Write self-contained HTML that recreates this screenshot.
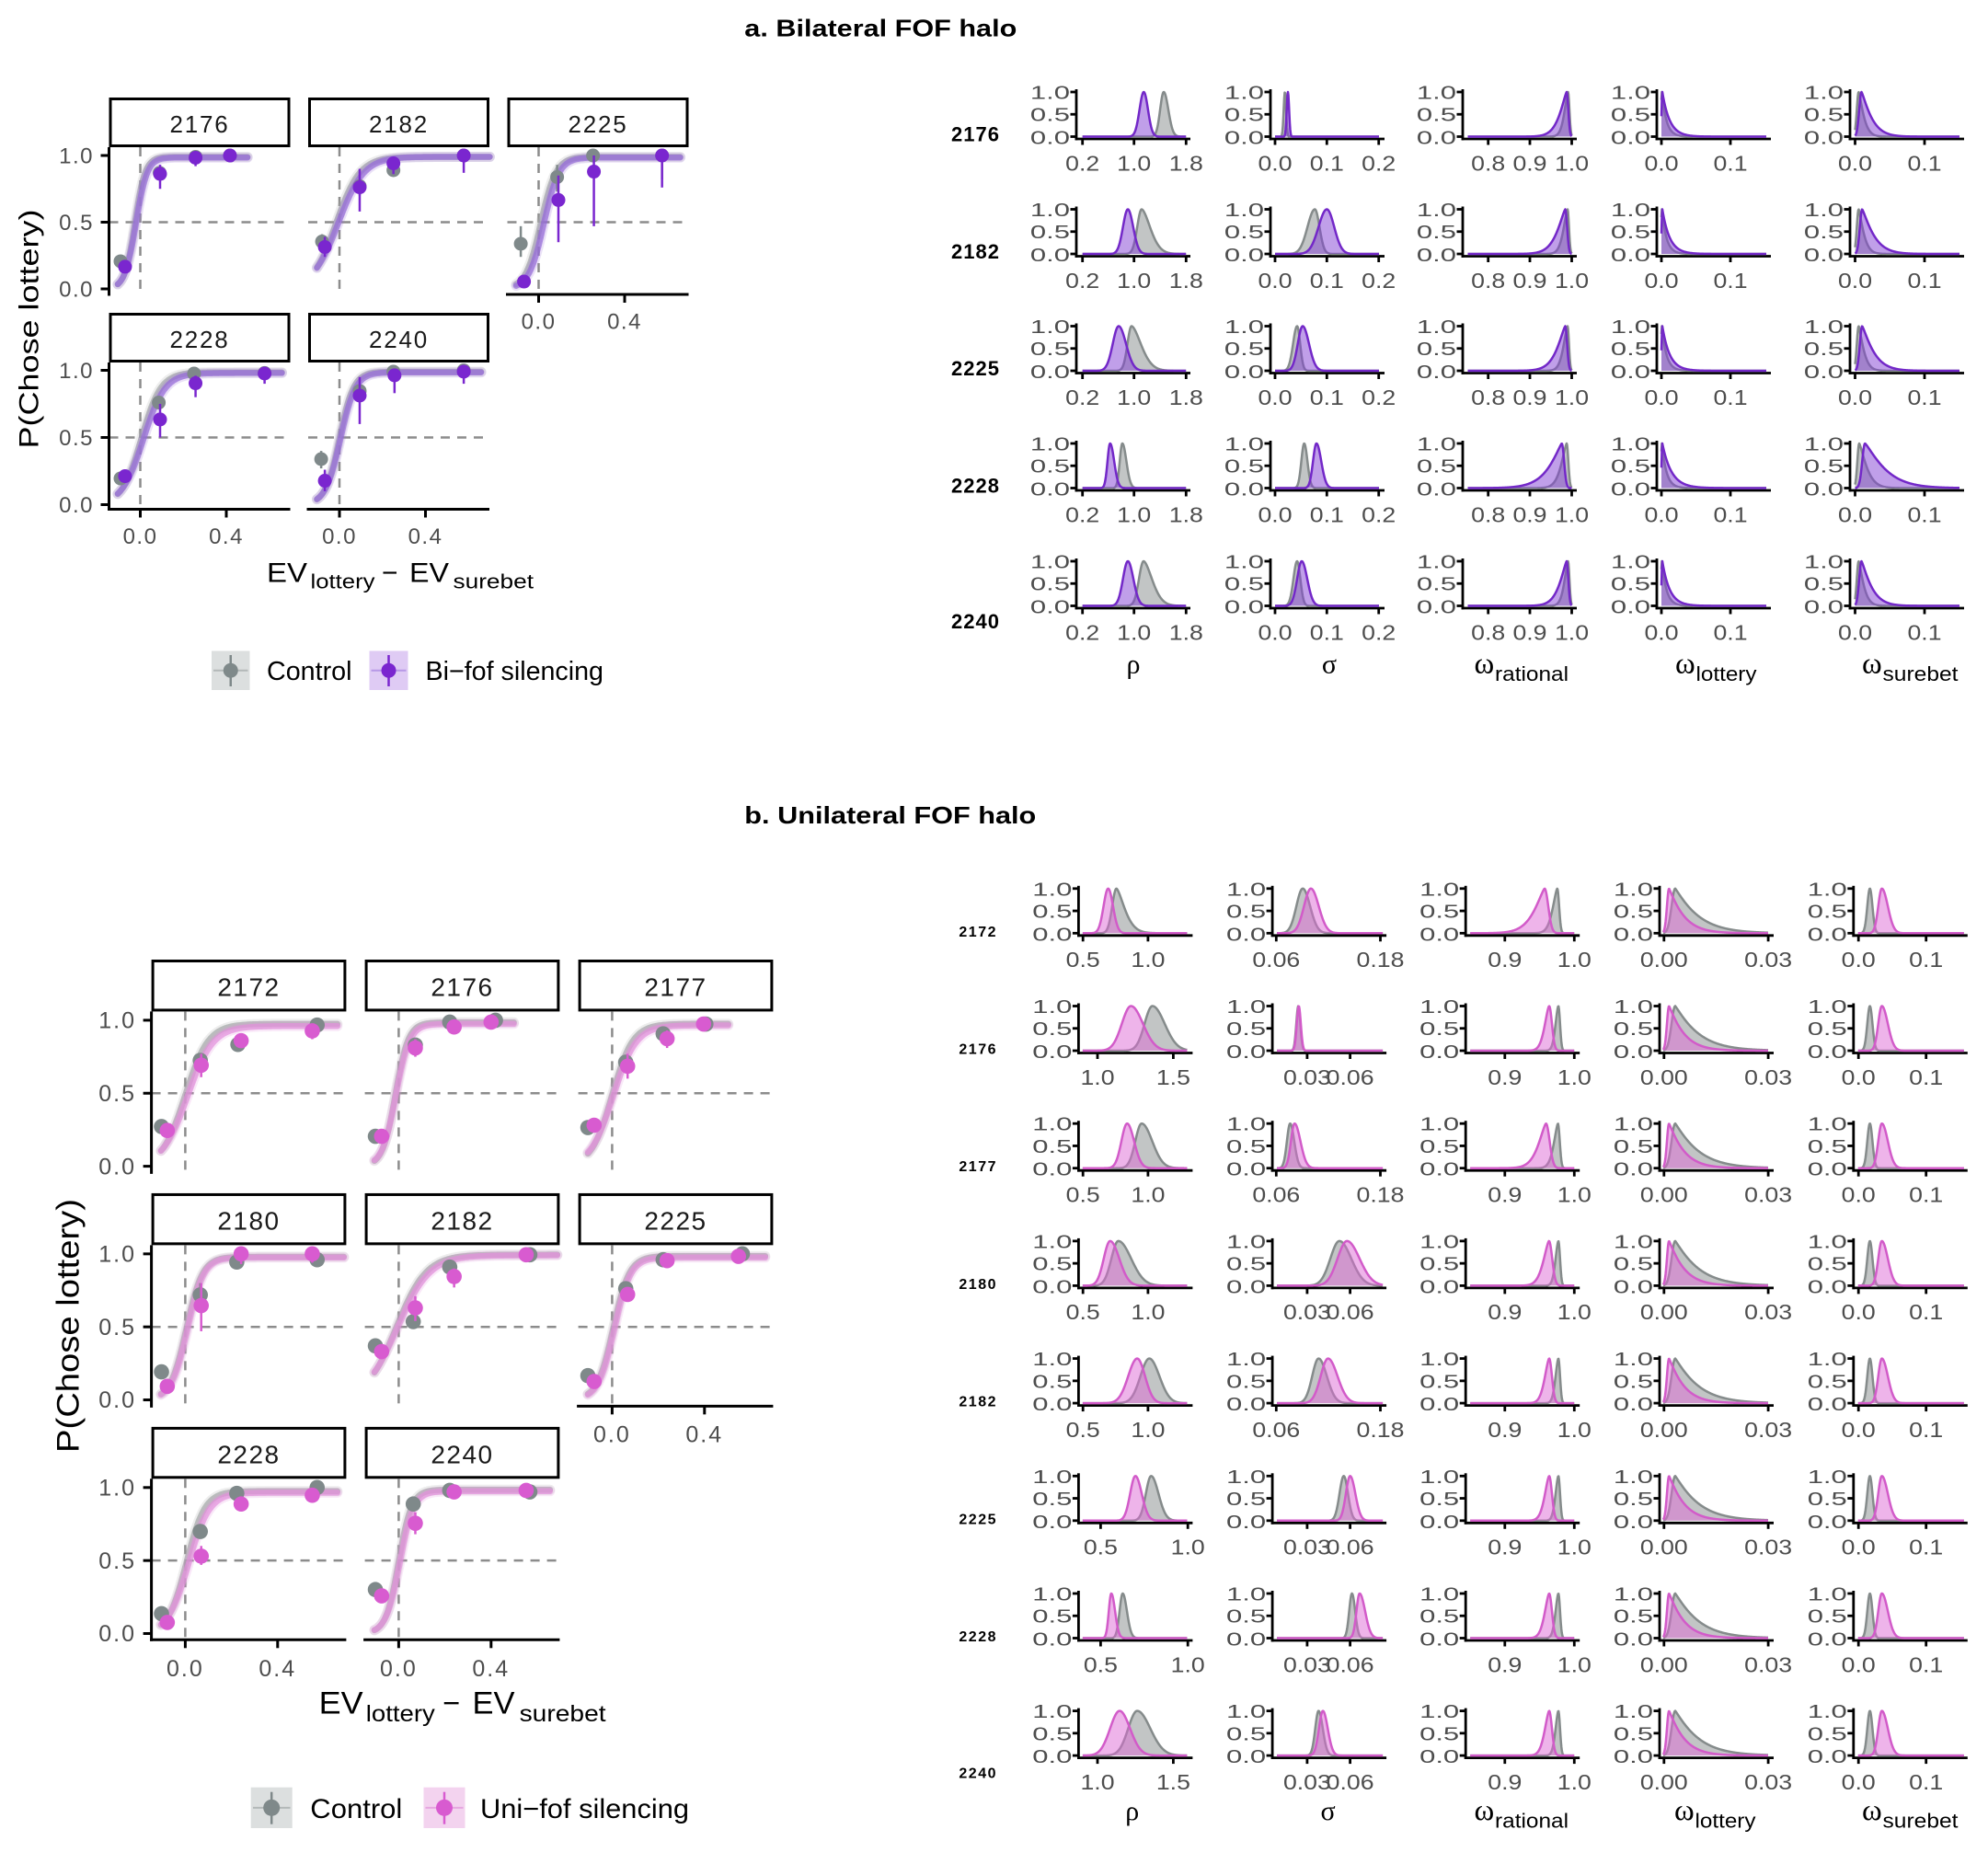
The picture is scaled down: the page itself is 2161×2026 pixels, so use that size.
<!DOCTYPE html>
<html><head><meta charset="utf-8">
<style>
html,body{margin:0;padding:0;background:#fff;}
svg{display:block}
text{font-family:"Liberation Sans",Arial,sans-serif;fill:#000}
.yt{font-size:20px;fill:#4d4d4d;text-anchor:end}
.xt{font-size:23px;fill:#4d4d4d;text-anchor:middle}
.rl{font-size:22px;font-weight:bold;text-anchor:end;letter-spacing:1px}
.rb{font-size:16px;font-weight:bold;text-anchor:end;letter-spacing:1.5px}
.la{font-size:24px;fill:#4d4d4d;letter-spacing:1.5px}
.lb{font-size:25px;fill:#4d4d4d;letter-spacing:2px}
.e{text-anchor:end}.m{text-anchor:middle}
.sa{font-size:26px;fill:#1a1a1a;text-anchor:middle;letter-spacing:1.8px}
.sb{font-size:28px;fill:#1a1a1a;text-anchor:middle;letter-spacing:1.5px}
.g{font-family:"Liberation Serif","DejaVu Serif",serif;font-size:30px}
.w{font-family:"Liberation Serif","DejaVu Serif",serif;font-size:33px}
.sub{font-size:22px}
</style></head><body>
<svg xmlns="http://www.w3.org/2000/svg" width="2161" height="2026" viewBox="0 0 2161 2026">
<rect width="2161" height="2026" fill="#fff"/>
<g id="g"></g>

<!-- Titles -->
<text x="809.3" y="39.3" font-size="26" font-weight="bold" textLength="296" lengthAdjust="spacingAndGlyphs">a. Bilateral FOF halo</text>
<text x="809.3" y="895" font-size="26" font-weight="bold" textLength="317" lengthAdjust="spacingAndGlyphs">b. Unilateral FOF halo</text>

<!-- ===== Panel a left ===== -->
<text class="sa" x="217" y="144">2176</text>
<text class="sa" x="433.5" y="144">2182</text>
<text class="sa" x="650" y="144">2225</text>
<text class="sa" x="217" y="378">2228</text>
<text class="sa" x="433.5" y="378">2240</text>
<text class="la e" x="102" y="177.5">1.0</text>
<text class="la e" x="102" y="250">0.5</text>
<text class="la e" x="102" y="322.5">0.0</text>
<text class="la e" x="102" y="411">1.0</text>
<text class="la e" x="102" y="484">0.5</text>
<text class="la e" x="102" y="557">0.0</text>
<text class="la m" x="152.5" y="591">0.0</text>
<text class="la m" x="246" y="591">0.4</text>
<text class="la m" x="369" y="591">0.0</text>
<text class="la m" x="462.5" y="591">0.4</text>
<text class="la m" x="585.5" y="357.5">0.0</text>
<text class="la m" x="679" y="357.5">0.4</text>
<text transform="translate(41.5,357.5) rotate(-90)" text-anchor="middle" font-size="30" textLength="260" lengthAdjust="spacingAndGlyphs">P(Chose lottery)</text>
<text x="290" y="632.5" font-size="30" textLength="44" lengthAdjust="spacingAndGlyphs">EV</text>
<text x="337.5" y="639.5" font-size="22" textLength="70" lengthAdjust="spacingAndGlyphs">lottery</text>
<text x="415" y="632.5" font-size="30" textLength="17.5" lengthAdjust="spacingAndGlyphs">−</text>
<text x="445" y="632.5" font-size="30" textLength="43" lengthAdjust="spacingAndGlyphs">EV</text>
<text x="492.5" y="639.5" font-size="22" textLength="87.5" lengthAdjust="spacingAndGlyphs">surebet</text>
<!-- legend a -->
<rect x="230" y="707.5" width="41.5" height="42.5" fill="#dcdfdf"/>
<line x1="232" y1="728.75" x2="269.5" y2="728.75" stroke="#b3b8b8" stroke-width="2"/>
<line x1="250.75" y1="712" x2="250.75" y2="746" stroke="#7f898a" stroke-width="2.5"/>
<circle cx="250.75" cy="728.75" r="8" fill="#7f898a"/>
<rect x="401.5" y="707.5" width="42" height="42.5" fill="#dfcbf4"/>
<line x1="403.5" y1="728.75" x2="441.5" y2="728.75" stroke="#b798e6" stroke-width="2"/>
<line x1="422.5" y1="712" x2="422.5" y2="746" stroke="#7a26cf" stroke-width="2.5"/>
<circle cx="422.5" cy="728.75" r="8" fill="#7a26cf"/>
<text x="290" y="739" font-size="29" textLength="92.5" lengthAdjust="spacingAndGlyphs">Control</text>
<text x="462.5" y="739" font-size="29" textLength="193.5" lengthAdjust="spacingAndGlyphs">Bi−fof silencing</text>

<!-- ===== Panel b left ===== -->
<text class="sb" x="270.5" y="1082.6">2172</text>
<text class="sb" x="502.5" y="1082.6">2176</text>
<text class="sb" x="734.5" y="1082.6">2177</text>
<text class="sb" x="270.5" y="1336.5">2180</text>
<text class="sb" x="502.5" y="1336.5">2182</text>
<text class="sb" x="734.5" y="1336.5">2225</text>
<text class="sb" x="270.5" y="1590.4">2228</text>
<text class="sb" x="502.5" y="1590.4">2240</text>
<text class="lb e" x="148" y="1117.6">1.0</text>
<text class="lb e" x="148" y="1197">0.5</text>
<text class="lb e" x="148" y="1276.3">0.0</text>
<text class="lb e" x="148" y="1371.5">1.0</text>
<text class="lb e" x="148" y="1450.9">0.5</text>
<text class="lb e" x="148" y="1530.2">0.0</text>
<text class="lb e" x="148" y="1625.4">1.0</text>
<text class="lb e" x="148" y="1704.8">0.5</text>
<text class="lb e" x="148" y="1784.1">0.0</text>
<text class="lb m" x="201.4" y="1822">0.0</text>
<text class="lb m" x="301.8" y="1822">0.4</text>
<text class="lb m" x="433.4" y="1822">0.0</text>
<text class="lb m" x="533.8" y="1822">0.4</text>
<text class="lb m" x="665.4" y="1567.4">0.0</text>
<text class="lb m" x="765.8" y="1567.4">0.4</text>
<text transform="translate(85.5,1441) rotate(-90)" text-anchor="middle" font-size="34" textLength="276" lengthAdjust="spacingAndGlyphs">P(Chose lottery)</text>
<text x="346.7" y="1862.7" font-size="34" textLength="48" lengthAdjust="spacingAndGlyphs">EV</text>
<text x="397.8" y="1871" font-size="25" textLength="75" lengthAdjust="spacingAndGlyphs">lottery</text>
<text x="481.2" y="1862.7" font-size="34" textLength="19" lengthAdjust="spacingAndGlyphs">−</text>
<text x="513.5" y="1862.7" font-size="34" textLength="46" lengthAdjust="spacingAndGlyphs">EV</text>
<text x="564.6" y="1871" font-size="25" textLength="94" lengthAdjust="spacingAndGlyphs">surebet</text>
<!-- legend b -->
<rect x="272.7" y="1942.7" width="45" height="44.3" fill="#dcdfdf"/>
<line x1="275" y1="1964.85" x2="315.5" y2="1964.85" stroke="#b3b8b8" stroke-width="2"/>
<line x1="295.2" y1="1947.7" x2="295.2" y2="1982.7" stroke="#7f898a" stroke-width="2.5"/>
<circle cx="295.2" cy="1964.85" r="9" fill="#7f898a"/>
<rect x="460.5" y="1942.7" width="45" height="44.3" fill="#f3d3ef"/>
<line x1="462.5" y1="1964.85" x2="503.5" y2="1964.85" stroke="#e6a6e0" stroke-width="2"/>
<line x1="483" y1="1947.7" x2="483" y2="1982.7" stroke="#d85bd0" stroke-width="2.5"/>
<circle cx="483" cy="1964.85" r="9" fill="#d85bd0"/>
<text x="337.3" y="1976" font-size="30" textLength="100" lengthAdjust="spacingAndGlyphs">Control</text>
<text x="522" y="1976" font-size="30" textLength="227" lengthAdjust="spacingAndGlyphs">Uni−fof silencing</text>

<!-- ===== Panel a right grid ===== -->
<g transform="translate(0,151)">
<text class="rl" x="1087" y="2.5">2176</text>
<g transform="translate(0,-43.5) scale(1.55,1)"><text class="yt" x="750.32">1.0</text><text class="yt" x="886.45">1.0</text><text class="yt" x="1021.29">1.0</text><text class="yt" x="1157.42">1.0</text><text class="yt" x="1292.9">1.0</text></g>
<g transform="translate(0,-19.3) scale(1.55,1)"><text class="yt" x="750.32">0.5</text><text class="yt" x="886.45">0.5</text><text class="yt" x="1021.29">0.5</text><text class="yt" x="1157.42">0.5</text><text class="yt" x="1292.9">0.5</text></g>
<g transform="translate(0,5.5) scale(1.55,1)"><text class="yt" x="750.32">0.0</text><text class="yt" x="886.45">0.0</text><text class="yt" x="1021.29">0.0</text><text class="yt" x="1157.42">0.0</text><text class="yt" x="1292.9">0.0</text></g>
<g transform="translate(0,34.3) scale(1.16,1)"><text class="xt" x="1014.4">0.2</text><text class="xt" x="1062.67">1.0</text><text class="xt" x="1111.47">1.8</text><text class="xt" x="1194.83">0.0</text><text class="xt" x="1243.36">0.1</text><text class="xt" x="1291.98">0.2</text><text class="xt" x="1394.57">0.8</text><text class="xt" x="1433.62">0.9</text><text class="xt" x="1472.84">1.0</text><text class="xt" x="1556.9">0.0</text><text class="xt" x="1621.55">0.1</text><text class="xt" x="1738.36">0.0</text><text class="xt" x="1803.45">0.1</text></g>
</g>
<g transform="translate(0,278.5)">
<text class="rl" x="1087" y="2.5">2182</text>
<g transform="translate(0,-43.5) scale(1.55,1)"><text class="yt" x="750.32">1.0</text><text class="yt" x="886.45">1.0</text><text class="yt" x="1021.29">1.0</text><text class="yt" x="1157.42">1.0</text><text class="yt" x="1292.9">1.0</text></g>
<g transform="translate(0,-19.3) scale(1.55,1)"><text class="yt" x="750.32">0.5</text><text class="yt" x="886.45">0.5</text><text class="yt" x="1021.29">0.5</text><text class="yt" x="1157.42">0.5</text><text class="yt" x="1292.9">0.5</text></g>
<g transform="translate(0,5.5) scale(1.55,1)"><text class="yt" x="750.32">0.0</text><text class="yt" x="886.45">0.0</text><text class="yt" x="1021.29">0.0</text><text class="yt" x="1157.42">0.0</text><text class="yt" x="1292.9">0.0</text></g>
<g transform="translate(0,34.3) scale(1.16,1)"><text class="xt" x="1014.4">0.2</text><text class="xt" x="1062.67">1.0</text><text class="xt" x="1111.47">1.8</text><text class="xt" x="1194.83">0.0</text><text class="xt" x="1243.36">0.1</text><text class="xt" x="1291.98">0.2</text><text class="xt" x="1394.57">0.8</text><text class="xt" x="1433.62">0.9</text><text class="xt" x="1472.84">1.0</text><text class="xt" x="1556.9">0.0</text><text class="xt" x="1621.55">0.1</text><text class="xt" x="1738.36">0.0</text><text class="xt" x="1803.45">0.1</text></g>
</g>
<g transform="translate(0,405.5)">
<text class="rl" x="1087" y="2.5">2225</text>
<g transform="translate(0,-43.5) scale(1.55,1)"><text class="yt" x="750.32">1.0</text><text class="yt" x="886.45">1.0</text><text class="yt" x="1021.29">1.0</text><text class="yt" x="1157.42">1.0</text><text class="yt" x="1292.9">1.0</text></g>
<g transform="translate(0,-19.3) scale(1.55,1)"><text class="yt" x="750.32">0.5</text><text class="yt" x="886.45">0.5</text><text class="yt" x="1021.29">0.5</text><text class="yt" x="1157.42">0.5</text><text class="yt" x="1292.9">0.5</text></g>
<g transform="translate(0,5.5) scale(1.55,1)"><text class="yt" x="750.32">0.0</text><text class="yt" x="886.45">0.0</text><text class="yt" x="1021.29">0.0</text><text class="yt" x="1157.42">0.0</text><text class="yt" x="1292.9">0.0</text></g>
<g transform="translate(0,34.3) scale(1.16,1)"><text class="xt" x="1014.4">0.2</text><text class="xt" x="1062.67">1.0</text><text class="xt" x="1111.47">1.8</text><text class="xt" x="1194.83">0.0</text><text class="xt" x="1243.36">0.1</text><text class="xt" x="1291.98">0.2</text><text class="xt" x="1394.57">0.8</text><text class="xt" x="1433.62">0.9</text><text class="xt" x="1472.84">1.0</text><text class="xt" x="1556.9">0.0</text><text class="xt" x="1621.55">0.1</text><text class="xt" x="1738.36">0.0</text><text class="xt" x="1803.45">0.1</text></g>
</g>
<g transform="translate(0,533)">
<text class="rl" x="1087" y="2.5">2228</text>
<g transform="translate(0,-43.5) scale(1.55,1)"><text class="yt" x="750.32">1.0</text><text class="yt" x="886.45">1.0</text><text class="yt" x="1021.29">1.0</text><text class="yt" x="1157.42">1.0</text><text class="yt" x="1292.9">1.0</text></g>
<g transform="translate(0,-19.3) scale(1.55,1)"><text class="yt" x="750.32">0.5</text><text class="yt" x="886.45">0.5</text><text class="yt" x="1021.29">0.5</text><text class="yt" x="1157.42">0.5</text><text class="yt" x="1292.9">0.5</text></g>
<g transform="translate(0,5.5) scale(1.55,1)"><text class="yt" x="750.32">0.0</text><text class="yt" x="886.45">0.0</text><text class="yt" x="1021.29">0.0</text><text class="yt" x="1157.42">0.0</text><text class="yt" x="1292.9">0.0</text></g>
<g transform="translate(0,34.3) scale(1.16,1)"><text class="xt" x="1014.4">0.2</text><text class="xt" x="1062.67">1.0</text><text class="xt" x="1111.47">1.8</text><text class="xt" x="1194.83">0.0</text><text class="xt" x="1243.36">0.1</text><text class="xt" x="1291.98">0.2</text><text class="xt" x="1394.57">0.8</text><text class="xt" x="1433.62">0.9</text><text class="xt" x="1472.84">1.0</text><text class="xt" x="1556.9">0.0</text><text class="xt" x="1621.55">0.1</text><text class="xt" x="1738.36">0.0</text><text class="xt" x="1803.45">0.1</text></g>
</g>
<g transform="translate(0,661)">
<text class="rl" x="1087" y="22">2240</text>
<g transform="translate(0,-43.5) scale(1.55,1)"><text class="yt" x="750.32">1.0</text><text class="yt" x="886.45">1.0</text><text class="yt" x="1021.29">1.0</text><text class="yt" x="1157.42">1.0</text><text class="yt" x="1292.9">1.0</text></g>
<g transform="translate(0,-19.3) scale(1.55,1)"><text class="yt" x="750.32">0.5</text><text class="yt" x="886.45">0.5</text><text class="yt" x="1021.29">0.5</text><text class="yt" x="1157.42">0.5</text><text class="yt" x="1292.9">0.5</text></g>
<g transform="translate(0,5.5) scale(1.55,1)"><text class="yt" x="750.32">0.0</text><text class="yt" x="886.45">0.0</text><text class="yt" x="1021.29">0.0</text><text class="yt" x="1157.42">0.0</text><text class="yt" x="1292.9">0.0</text></g>
<g transform="translate(0,34.3) scale(1.16,1)"><text class="xt" x="1014.4">0.2</text><text class="xt" x="1062.67">1.0</text><text class="xt" x="1111.47">1.8</text><text class="xt" x="1194.83">0.0</text><text class="xt" x="1243.36">0.1</text><text class="xt" x="1291.98">0.2</text><text class="xt" x="1394.57">0.8</text><text class="xt" x="1433.62">0.9</text><text class="xt" x="1472.84">1.0</text><text class="xt" x="1556.9">0.0</text><text class="xt" x="1621.55">0.1</text><text class="xt" x="1738.36">0.0</text><text class="xt" x="1803.45">0.1</text></g>
</g>
<!-- axis titles a -->
<text class="g" x="1232" y="731.5" text-anchor="middle">ρ</text>
<text class="g" x="1445" y="731.5" text-anchor="middle">σ</text>
<text class="w" x="1602.5" y="731.5">ω</text><text class="sub" x="1625" y="740" textLength="80" lengthAdjust="spacingAndGlyphs">rational</text>
<text class="w" x="1821" y="731.5">ω</text><text class="sub" x="1843.5" y="740" textLength="66" lengthAdjust="spacingAndGlyphs">lottery</text>
<text class="w" x="2024" y="731.5">ω</text><text class="sub" x="2046.5" y="740" textLength="82" lengthAdjust="spacingAndGlyphs">surebet</text>

<!-- ===== Panel b right grid ===== -->
<g transform="translate(0,1016.8)">
<text class="rb" x="1084" y="1">2172</text>
<g transform="translate(0,-43.5) scale(1.55,1)"><text class="yt" x="751.87">1.0</text><text class="yt" x="887.81">1.0</text><text class="yt" x="1023.35">1.0</text><text class="yt" x="1159.35">1.0</text><text class="yt" x="1295.35">1.0</text></g>
<g transform="translate(0,-19.3) scale(1.55,1)"><text class="yt" x="751.87">0.5</text><text class="yt" x="887.81">0.5</text><text class="yt" x="1023.35">0.5</text><text class="yt" x="1159.35">0.5</text><text class="yt" x="1295.35">0.5</text></g>
<g transform="translate(0,5.5) scale(1.55,1)"><text class="yt" x="751.87">0.0</text><text class="yt" x="887.81">0.0</text><text class="yt" x="1023.35">0.0</text><text class="yt" x="1159.35">0.0</text><text class="yt" x="1295.35">0.0</text></g>
<g transform="translate(0,34.3) scale(1.16,1)"><text class="xt" x="1014.83">0.5</text><text class="xt" x="1075.78">1.0</text><text class="xt" x="1195.95">0.06</text><text class="xt" x="1293.53">0.18</text><text class="xt" x="1410.17">0.9</text><text class="xt" x="1475.26">1.0</text><text class="xt" x="1559.31">0.00</text><text class="xt" x="1656.98">0.03</text><text class="xt" x="1741.55">0.0</text><text class="xt" x="1804.91">0.1</text></g>
</g>
<g transform="translate(0,1144.5)">
<text class="rb" x="1084" y="1">2176</text>
<g transform="translate(0,-43.5) scale(1.55,1)"><text class="yt" x="751.87">1.0</text><text class="yt" x="887.81">1.0</text><text class="yt" x="1023.35">1.0</text><text class="yt" x="1159.35">1.0</text><text class="yt" x="1295.35">1.0</text></g>
<g transform="translate(0,-19.3) scale(1.55,1)"><text class="yt" x="751.87">0.5</text><text class="yt" x="887.81">0.5</text><text class="yt" x="1023.35">0.5</text><text class="yt" x="1159.35">0.5</text><text class="yt" x="1295.35">0.5</text></g>
<g transform="translate(0,5.5) scale(1.55,1)"><text class="yt" x="751.87">0.0</text><text class="yt" x="887.81">0.0</text><text class="yt" x="1023.35">0.0</text><text class="yt" x="1159.35">0.0</text><text class="yt" x="1295.35">0.0</text></g>
<g transform="translate(0,34.3) scale(1.16,1)"><text class="xt" x="1028.45">1.0</text><text class="xt" x="1099.48">1.5</text><text class="xt" x="1224.91">0.03</text><text class="xt" x="1265.17">0.06</text><text class="xt" x="1410.17">0.9</text><text class="xt" x="1475.26">1.0</text><text class="xt" x="1559.31">0.00</text><text class="xt" x="1656.98">0.03</text><text class="xt" x="1741.55">0.0</text><text class="xt" x="1804.91">0.1</text></g>
</g>
<g transform="translate(0,1272.2)">
<text class="rb" x="1084" y="1">2177</text>
<g transform="translate(0,-43.5) scale(1.55,1)"><text class="yt" x="751.87">1.0</text><text class="yt" x="887.81">1.0</text><text class="yt" x="1023.35">1.0</text><text class="yt" x="1159.35">1.0</text><text class="yt" x="1295.35">1.0</text></g>
<g transform="translate(0,-19.3) scale(1.55,1)"><text class="yt" x="751.87">0.5</text><text class="yt" x="887.81">0.5</text><text class="yt" x="1023.35">0.5</text><text class="yt" x="1159.35">0.5</text><text class="yt" x="1295.35">0.5</text></g>
<g transform="translate(0,5.5) scale(1.55,1)"><text class="yt" x="751.87">0.0</text><text class="yt" x="887.81">0.0</text><text class="yt" x="1023.35">0.0</text><text class="yt" x="1159.35">0.0</text><text class="yt" x="1295.35">0.0</text></g>
<g transform="translate(0,34.3) scale(1.16,1)"><text class="xt" x="1014.83">0.5</text><text class="xt" x="1075.78">1.0</text><text class="xt" x="1195.95">0.06</text><text class="xt" x="1293.53">0.18</text><text class="xt" x="1410.17">0.9</text><text class="xt" x="1475.26">1.0</text><text class="xt" x="1559.31">0.00</text><text class="xt" x="1656.98">0.03</text><text class="xt" x="1741.55">0.0</text><text class="xt" x="1804.91">0.1</text></g>
</g>
<g transform="translate(0,1399.9)">
<text class="rb" x="1084" y="1">2180</text>
<g transform="translate(0,-43.5) scale(1.55,1)"><text class="yt" x="751.87">1.0</text><text class="yt" x="887.81">1.0</text><text class="yt" x="1023.35">1.0</text><text class="yt" x="1159.35">1.0</text><text class="yt" x="1295.35">1.0</text></g>
<g transform="translate(0,-19.3) scale(1.55,1)"><text class="yt" x="751.87">0.5</text><text class="yt" x="887.81">0.5</text><text class="yt" x="1023.35">0.5</text><text class="yt" x="1159.35">0.5</text><text class="yt" x="1295.35">0.5</text></g>
<g transform="translate(0,5.5) scale(1.55,1)"><text class="yt" x="751.87">0.0</text><text class="yt" x="887.81">0.0</text><text class="yt" x="1023.35">0.0</text><text class="yt" x="1159.35">0.0</text><text class="yt" x="1295.35">0.0</text></g>
<g transform="translate(0,34.3) scale(1.16,1)"><text class="xt" x="1014.83">0.5</text><text class="xt" x="1075.78">1.0</text><text class="xt" x="1224.91">0.03</text><text class="xt" x="1265.17">0.06</text><text class="xt" x="1410.17">0.9</text><text class="xt" x="1475.26">1.0</text><text class="xt" x="1559.31">0.00</text><text class="xt" x="1656.98">0.03</text><text class="xt" x="1741.55">0.0</text><text class="xt" x="1804.91">0.1</text></g>
</g>
<g transform="translate(0,1527.6)">
<text class="rb" x="1084" y="1">2182</text>
<g transform="translate(0,-43.5) scale(1.55,1)"><text class="yt" x="751.87">1.0</text><text class="yt" x="887.81">1.0</text><text class="yt" x="1023.35">1.0</text><text class="yt" x="1159.35">1.0</text><text class="yt" x="1295.35">1.0</text></g>
<g transform="translate(0,-19.3) scale(1.55,1)"><text class="yt" x="751.87">0.5</text><text class="yt" x="887.81">0.5</text><text class="yt" x="1023.35">0.5</text><text class="yt" x="1159.35">0.5</text><text class="yt" x="1295.35">0.5</text></g>
<g transform="translate(0,5.5) scale(1.55,1)"><text class="yt" x="751.87">0.0</text><text class="yt" x="887.81">0.0</text><text class="yt" x="1023.35">0.0</text><text class="yt" x="1159.35">0.0</text><text class="yt" x="1295.35">0.0</text></g>
<g transform="translate(0,34.3) scale(1.16,1)"><text class="xt" x="1014.83">0.5</text><text class="xt" x="1075.78">1.0</text><text class="xt" x="1195.95">0.06</text><text class="xt" x="1293.53">0.18</text><text class="xt" x="1410.17">0.9</text><text class="xt" x="1475.26">1.0</text><text class="xt" x="1559.31">0.00</text><text class="xt" x="1656.98">0.03</text><text class="xt" x="1741.55">0.0</text><text class="xt" x="1804.91">0.1</text></g>
</g>
<g transform="translate(0,1655.3)">
<text class="rb" x="1084" y="1">2225</text>
<g transform="translate(0,-43.5) scale(1.55,1)"><text class="yt" x="751.87">1.0</text><text class="yt" x="887.81">1.0</text><text class="yt" x="1023.35">1.0</text><text class="yt" x="1159.35">1.0</text><text class="yt" x="1295.35">1.0</text></g>
<g transform="translate(0,-19.3) scale(1.55,1)"><text class="yt" x="751.87">0.5</text><text class="yt" x="887.81">0.5</text><text class="yt" x="1023.35">0.5</text><text class="yt" x="1159.35">0.5</text><text class="yt" x="1295.35">0.5</text></g>
<g transform="translate(0,5.5) scale(1.55,1)"><text class="yt" x="751.87">0.0</text><text class="yt" x="887.81">0.0</text><text class="yt" x="1023.35">0.0</text><text class="yt" x="1159.35">0.0</text><text class="yt" x="1295.35">0.0</text></g>
<g transform="translate(0,34.3) scale(1.16,1)"><text class="xt" x="1031.38">0.5</text><text class="xt" x="1113.1">1.0</text><text class="xt" x="1224.91">0.03</text><text class="xt" x="1265.17">0.06</text><text class="xt" x="1410.17">0.9</text><text class="xt" x="1475.26">1.0</text><text class="xt" x="1559.31">0.00</text><text class="xt" x="1656.98">0.03</text><text class="xt" x="1741.55">0.0</text><text class="xt" x="1804.91">0.1</text></g>
</g>
<g transform="translate(0,1783)">
<text class="rb" x="1084" y="1">2228</text>
<g transform="translate(0,-43.5) scale(1.55,1)"><text class="yt" x="751.87">1.0</text><text class="yt" x="887.81">1.0</text><text class="yt" x="1023.35">1.0</text><text class="yt" x="1159.35">1.0</text><text class="yt" x="1295.35">1.0</text></g>
<g transform="translate(0,-19.3) scale(1.55,1)"><text class="yt" x="751.87">0.5</text><text class="yt" x="887.81">0.5</text><text class="yt" x="1023.35">0.5</text><text class="yt" x="1159.35">0.5</text><text class="yt" x="1295.35">0.5</text></g>
<g transform="translate(0,5.5) scale(1.55,1)"><text class="yt" x="751.87">0.0</text><text class="yt" x="887.81">0.0</text><text class="yt" x="1023.35">0.0</text><text class="yt" x="1159.35">0.0</text><text class="yt" x="1295.35">0.0</text></g>
<g transform="translate(0,34.3) scale(1.16,1)"><text class="xt" x="1031.38">0.5</text><text class="xt" x="1113.1">1.0</text><text class="xt" x="1224.91">0.03</text><text class="xt" x="1265.17">0.06</text><text class="xt" x="1410.17">0.9</text><text class="xt" x="1475.26">1.0</text><text class="xt" x="1559.31">0.00</text><text class="xt" x="1656.98">0.03</text><text class="xt" x="1741.55">0.0</text><text class="xt" x="1804.91">0.1</text></g>
</g>
<g transform="translate(0,1910.6)">
<text class="rb" x="1084" y="22">2240</text>
<g transform="translate(0,-43.5) scale(1.55,1)"><text class="yt" x="751.87">1.0</text><text class="yt" x="887.81">1.0</text><text class="yt" x="1023.35">1.0</text><text class="yt" x="1159.35">1.0</text><text class="yt" x="1295.35">1.0</text></g>
<g transform="translate(0,-19.3) scale(1.55,1)"><text class="yt" x="751.87">0.5</text><text class="yt" x="887.81">0.5</text><text class="yt" x="1023.35">0.5</text><text class="yt" x="1159.35">0.5</text><text class="yt" x="1295.35">0.5</text></g>
<g transform="translate(0,5.5) scale(1.55,1)"><text class="yt" x="751.87">0.0</text><text class="yt" x="887.81">0.0</text><text class="yt" x="1023.35">0.0</text><text class="yt" x="1159.35">0.0</text><text class="yt" x="1295.35">0.0</text></g>
<g transform="translate(0,34.3) scale(1.16,1)"><text class="xt" x="1028.45">1.0</text><text class="xt" x="1099.48">1.5</text><text class="xt" x="1224.91">0.03</text><text class="xt" x="1265.17">0.06</text><text class="xt" x="1410.17">0.9</text><text class="xt" x="1475.26">1.0</text><text class="xt" x="1559.31">0.00</text><text class="xt" x="1656.98">0.03</text><text class="xt" x="1741.55">0.0</text><text class="xt" x="1804.91">0.1</text></g>
</g>
<!-- axis titles b -->
<text class="g" x="1230.7" y="1978" text-anchor="middle">ρ</text>
<text class="g" x="1443.6" y="1978" text-anchor="middle">σ</text>
<text class="w" x="1602.5" y="1978">ω</text><text class="sub" x="1625" y="1986.5" textLength="80" lengthAdjust="spacingAndGlyphs">rational</text>
<text class="w" x="1820" y="1978">ω</text><text class="sub" x="1842.5" y="1986.5" textLength="66" lengthAdjust="spacingAndGlyphs">lottery</text>
<text class="w" x="2024" y="1978">ω</text><text class="sub" x="2046.5" y="1986.5" textLength="82" lengthAdjust="spacingAndGlyphs">surebet</text>
</svg>

<script>
(function(){
const NS='http://www.w3.org/2000/svg',G=document.getElementById('g');
function E(t,a){const e=document.createElementNS(NS,t);for(const k in a)e.setAttribute(k,a[k]);G.appendChild(e);return e}
function ln(x1,y1,x2,y2,c,w,d){const a={x1:x1,y1:y1,x2:x2,y2:y2,stroke:c,'stroke-width':w};if(d)a['stroke-dasharray']=d;return E('line',a)}
const GP='#7f898a',PU='#7a26cf',PK='#d85bd0',GC='#a3a7a7',PC='#9468d8',KC='#e38edc';

function psy(o){
 const X=v=>o.L+o.x0+v*o.ux, Y=p=>o.y0-p*o.uy, B=o.T+o.H;
 E('rect',{x:o.L+1.5,y:o.S+1.5,width:o.W-3,height:o.SH-3,fill:'#fff',stroke:'#000','stroke-width':3});
 ln(X(0),o.T,X(0),B,'#8c8c8c',2.5,'10 8');
 ln(o.L,Y(.5),o.L+o.W,Y(.5),'#8c8c8c',2.5,'10 8');
 for(const c of o.cv){let d='';for(let v=-0.105;v<=c[3]+1e-6;v+=0.004){const p=c[2]/(1+Math.exp(-(v-c[0])/c[1]));d+=(d?'L':'M')+X(v).toFixed(1)+' '+Y(p).toFixed(1)}
  E('path',{d:d,fill:'none',stroke:c[4],'stroke-width':11,'stroke-opacity':.2,'stroke-linecap':'round','stroke-linejoin':'round'});
  E('path',{d:d,fill:'none',stroke:c[4],'stroke-width':6.5,'stroke-opacity':.7,'stroke-linecap':'round','stroke-linejoin':'round'});}
 function pts(arr,col){for(const q of arr){const lo=q.length>2?q[2]:Math.max(0,q[1]-.035),hi=q.length>2?q[3]:Math.min(1,q[1]+.035);
  ln(X(q[0]),Y(lo),X(q[0]),Y(hi),col,2.5);E('circle',{cx:X(q[0]),cy:Y(q[1]),r:o.r,fill:col});}}
 pts(o.pg,GP);pts(o.pc,o.col);
 if(o.ya){ln(o.L,o.T,o.L,B+1.5,'#000',3);for(const p of [0,.5,1])ln(o.L-9,Y(p),o.L,Y(p),'#000',3);}
 if(o.xa){ln(o.L-1.5,B,o.L+o.W,B,'#000',3);for(const v of [0,.4])ln(X(v),B,X(v),B+9,'#000',3);}
}
function pA(c,r,o){o.L=118.5+216.5*c;o.T=r?394:160;o.H=r?159.5:160;o.W=197;o.S=o.T-54;o.SH=54;o.x0=34;o.ux=233.75;o.y0=r?548.5:314;o.uy=r?146:145;o.r=7.5;o.col=PU;psy(o)}
function pB(c,r,o){o.L=164.6+232*c;o.T=1099.4+253.95*r;o.H=175;o.W=211.8;o.S=o.T-56.4;o.SH=56.4;o.x0=36.8;o.ux=251;o.y0=1267.6+253.95*r;o.uy=158.7;o.r=8.3;o.col=PK;psy(o)}

// Panel a
pA(0,0,{ya:1,cv:[[-0.025,0.024,0.99,0.5,GC],[-0.02,0.026,0.985,0.5,PC]],
 pg:[[-0.092,0.207,0.17,0.24],[0.09,0.87,0.84,0.9],[0.257,0.99,0.97,1],[0.417,1,0.99,1]],
 pc:[[-0.071,0.166,0.13,0.2],[0.092,0.862,0.75,0.93],[0.257,0.983,0.92,1],[0.417,1,0.95,1]]});
pA(1,0,{cv:[[-0.015,0.055,0.99,0.7,GC],[-0.005,0.06,0.99,0.7,PC]],
 pg:[[-0.081,0.355,0.3,0.41],[0.094,0.77,0.7,0.84],[0.251,0.89,0.85,0.93],[0.578,1,0.98,1]],
 pc:[[-0.068,0.314,0.24,0.39],[0.094,0.762,0.58,0.9],[0.251,0.941,0.86,0.99],[0.578,1,0.87,1]]});
pA(2,0,{xa:1,cv:[[0.01,0.035,0.99,0.66,GC],[0.025,0.035,0.985,0.66,PC]],
 pg:[[-0.083,0.338,0.24,0.47],[0.086,0.838,0.73,0.93],[0.253,1,0.98,1],[0.574,1,0.82,1]],
 pc:[[-0.068,0.055,0.02,0.1],[0.092,0.666,0.35,0.85],[0.257,0.879,0.47,1],[0.574,1,0.76,1]]});
pA(0,1,{ya:1,xa:1,cv:[[0.005,0.045,0.985,0.66,GC],[0.015,0.05,0.98,0.66,PC]],
 pg:[[-0.092,0.195,0.16,0.23],[0.086,0.76,0.72,0.8],[0.25,0.976,0.95,1],[0.578,0.98,0.96,1]],
 pc:[[-0.071,0.212,0.17,0.26],[0.092,0.634,0.5,0.75],[0.257,0.904,0.8,0.96],[0.578,0.976,0.9,1]]});
pA(1,1,{xa:1,cv:[[0.0,0.033,0.99,0.66,GC],[0.005,0.035,0.985,0.66,PC]],
 pg:[[-0.085,0.339,0.27,0.4],[0.094,0.846,0.8,0.89],[0.251,0.99,0.97,1],[0.578,1,0.98,1]],
 pc:[[-0.068,0.178,0.1,0.26],[0.094,0.812,0.6,0.95],[0.256,0.963,0.83,1],[0.578,0.99,0.9,1]]});

// Panel b
pB(0,0,{ya:1,cv:[[0.0,0.05,0.975,0.66,GC],[0.01,0.055,0.96,0.66,KC]],
 pg:[[-0.103,0.272],[0.065,0.725],[0.228,0.834],[0.571,0.967]],
 pc:[[-0.078,0.245],[0.069,0.692,0.61,0.77],[0.242,0.86],[0.55,0.927,0.87,0.97]]});
pB(1,0,{cv:[[-0.014,0.028,0.985,0.5,GC],[-0.012,0.03,0.975,0.5,KC]],
 pg:[[-0.101,0.205],[0.072,0.83],[0.221,0.987],[0.419,1]],
 pc:[[-0.074,0.205],[0.072,0.81,0.75,0.87],[0.24,0.954],[0.4,0.987]]});
pB(2,0,{cv:[[0.0,0.045,0.975,0.505,GC],[0.005,0.05,0.965,0.505,KC]],
 pg:[[-0.105,0.265],[0.059,0.712],[0.221,0.907],[0.406,0.974]],
 pc:[[-0.078,0.281],[0.067,0.685,0.6,0.77],[0.238,0.874,0.81,0.93],[0.396,0.974]]});
pB(0,1,{ya:1,cv:[[0.005,0.035,0.98,0.69,GC],[0.01,0.035,0.975,0.69,KC]],
 pg:[[-0.103,0.192,0.15,0.24],[0.065,0.719,0.64,0.8],[0.223,0.944,0.9,0.99],[0.571,0.96,0.92,1]],
 pc:[[-0.078,0.093],[0.069,0.646,0.47,0.8],[0.242,1,0.93,1],[0.55,1,0.94,1]]});
pB(1,1,{cv:[[-0.01,0.065,0.995,0.69,GC],[-0.005,0.07,0.99,0.69,KC]],
 pg:[[-0.101,0.37],[0.063,0.536],[0.221,0.91],[0.568,0.994]],
 pc:[[-0.074,0.331,0.28,0.38],[0.072,0.63,0.54,0.71],[0.24,0.845,0.77,0.9],[0.552,0.994]]});
pB(2,1,{xa:1,cv:[[0.005,0.035,0.985,0.663,GC],[0.01,0.035,0.975,0.663,KC]],
 pg:[[-0.105,0.166],[0.059,0.762],[0.221,0.96],[0.564,1]],
 pc:[[-0.078,0.126],[0.067,0.722],[0.238,0.954],[0.547,0.983]]});
pB(0,2,{ya:1,xa:1,cv:[[0.005,0.04,0.975,0.66,GC],[0.015,0.045,0.965,0.66,KC]],
 pg:[[-0.103,0.136],[0.065,0.699],[0.223,0.96],[0.571,1]],
 pc:[[-0.078,0.076],[0.069,0.53,0.47,0.6],[0.242,0.887],[0.55,0.947]]});
pB(1,2,{xa:1,cv:[[0.0,0.028,0.985,0.657,GC],[0.005,0.03,0.975,0.657,KC]],
 pg:[[-0.101,0.301],[0.063,0.887],[0.221,0.98],[0.568,0.97]],
 pc:[[-0.074,0.258],[0.072,0.755,0.68,0.83],[0.24,0.97],[0.552,0.98]]});

// densities
function dens(ay,p,x1,x2,fc,fo,lc){
 const y0=ay-2.5,h=48.5;let d='';
 for(let x=x1;x<=x2+0.01;x+=0.5){const dd=x-p[0];const s=dd<0?p[1]:p[3],k=dd<0?p[2]:p[4];const f=Math.exp(-0.5*Math.pow(Math.abs(dd)/s,k));d+=(d?'L':'M')+x.toFixed(1)+' '+(y0-f*h).toFixed(2)}
 E('path',{d:d+'L'+x2.toFixed(1)+' '+y0+'L'+x1.toFixed(1)+' '+y0+'Z',fill:fc,'fill-opacity':fo});
 E('path',{d:d,fill:'none',stroke:lc,'stroke-width':2.5,'stroke-linejoin':'round'});
}
function grid(rows,Ls,ticks,xr,data,fc,lc){
 rows.forEach((ay,r)=>{Ls.forEach((Lx,c)=>{
  ln(Lx,ay-54,Lx,ay+1.4,'#000',2.8);
  for(const p of [0,.5,1]){const y=ay-2.5-p*48.5;ln(Lx-6.5,y,Lx,y,'#000',2.8)}
  ln(Lx-1.4,ay,Lx+124,ay,'#000',2.8);
  const tk=(typeof ticks[c][0]==='number')?ticks[c]:ticks[c][r];
  for(const t of tk)ln(Lx+t,ay,Lx+t,ay+6.5,'#000',2.8);
  const dd=data[r][c];
  dens(ay,dd[0],Lx+xr[c][0],Lx+xr[c][1],'#8f9595',.55,'#858b8b');
  dens(ay,dd[1],Lx+xr[c][0],Lx+xr[c][1],fc,.5,lc);
 })});
}
const c4=[[1806.5,0.8,2,2.5,1],[1807,0.8,2,4,1]], c5=[[2020.4,2,2,4,1.3],[2023.5,2.5,2,7,1.2]];
const DA=[
 [[[1265,3.9,2,5,2],[1243.3,4.6,2,4.6,2]],[[1396.7,1.3,2,1.3,2],[1400,1.3,2,1.3,2]],[[1704.5,3.5,1.5,1.5,2],[1703,6,1.3,1.8,2]],c4,c5],
 [[[1241,4.8,2,9,1.7],[1226,5.3,2,5.8,2]],[[1429.3,8,2,5,2],[1442.3,9,2,8,2]],[[1704,4,1.5,1.5,2],[1701.5,7,1.3,2,2]],c4,[[2020.4,2,2,4,1.3],[2024.2,2.5,2,8,1.2]]],
 [[[1230,4.4,2,10,1.7],[1216,6.4,2,8,2]],[[1410,4.4,2,3.3,2],[1416,5.3,2,6.9,2]],[[1704,4,1.5,1.5,2],[1701.5,7,1.3,2,2]],c4,[[2020.4,2,2,4,1.3],[2024.2,2.5,2,8,1.2]]],
 [[[1220,2.8,2,4.4,2],[1206.7,2.8,2,4.4,2]],[[1417.7,3.1,2,3.5,2],[1431,3.7,2,5.2,2]],[[1703,5,1.4,1.8,2],[1697.7,10,1.2,2.5,2]],[[1806.5,0.8,2,2.5,1],[1807,0.8,2,5,1]],[[2021,2,2,6,1.3],[2027.3,3,2,14,1.2]]],
 [[[1243.1,5,2,9,1.7],[1226,5.3,2,6,2]],[[1410,4,2,3.5,2],[1415,5,2,6,2]],[[1704.5,3.5,1.5,1.5,2],[1703,6,1.3,1.8,2]],c4,c5]
];
grid([151,278.5,405.5,533,661],[1170,1381,1590,1801,2011],
 [[6.7,62.7,119.3],[5,61.3,117.7],[27.7,73,118.5],[5,80],[5.5,81]],
 [[6.7,119.3],[5,118],[5.5,118.5],[5,119],[5.5,119]],DA,'#8240d4','#7328c8');

const G3=[1694,3,1.7,1.8,2],P3=[1684,4.5,1.6,3,2],B4=[[1821,4,2,14,1.1],[1814.3,2.3,2,9,1.1]],B5=[[2032.6,2.8,2,2.8,2],[2045.6,3.9,2,6.5,2]];
const DB=[
 [[[1213.6,4.6,2,8,1.5],[1204.6,5,2,5.3,2]],[[1416.1,6.9,2,8,2],[1425,7.5,2,8.5,2]],[[1692.8,4.5,1.5,2,2],[1679,9,1.3,4,2]],B4,B5],
 [[[1252.7,8.5,2,13.3,2],[1229.4,9.9,2,13,2]],[[1411.3,2.2,2,2.2,2],[1411.8,2.2,2,2.2,2]],[G3,P3],B4,B5],
 [[[1241,6.9,2,11.5,2],[1225.2,6.2,2,7.6,2]],[[1402.4,3.5,2,4.5,2],[1407.2,3.9,2,6.4,2]],[[1693.5,4,1.5,2,2],[1680.5,7,1.4,4,2]],B4,B5],
 [[[1215.6,7.5,2,14,2],[1206.7,6.9,2,10,2]],[[1455.9,9.8,2,13,2],[1464.2,10.3,2,13.7,2]],[G3,[1683.8,5.5,1.5,3.5,2]],B4,B5],
 [[[1249.3,9.6,2,11,2],[1236.2,9.8,2,8.5,2]],[[1433.3,6.9,2,9,2],[1443.6,8,2,10.3,2]],[G3,P3],B4,B5],
 [[[1251.3,5.7,2,8,2],[1234.2,5.7,2,6.9,2]],[[1460.7,4.6,2,4.6,2],[1467.6,4.6,2,5.7,2]],[G3,P3],B4,B5],
 [[[1220.4,3.4,2,4.6,2],[1208,2.7,2,4.1,2]],[[1469.6,3,2,3.5,2],[1477.9,3.4,2,6,2]],[G3,P3],B4,B5],
 [[[1236.2,9.8,2,14.2,2],[1217,10.3,2,11.4,2]],[[1433.3,3.6,2,4.6,2],[1438,4.3,2,5.3,2]],[G3,P3],B4,B5]
];
const TA_=[4.8,75.5],TB_=[20.6,103],TC_=[24,118.8],S1=[4.2,117.4],S2=[37.8,84.5];
grid([1016.8,1144.5,1272.2,1399.9,1527.6,1655.3,1783,1910.6],[1172.4,1383.1,1593.2,1804,2014.8],
 [[TA_,TB_,TA_,TA_,TA_,TC_,TC_,TB_],[S1,S2,S1,S2,S1,S2,S2,S2],[42.6,118.1],[4.8,118.1],[5.4,78.9]],
 [[4.5,118],[5,120],[5,118],[4,118],[5,120]],DB,'#dd6ad6','#d25bc9');
})();
</script>
</body></html>
